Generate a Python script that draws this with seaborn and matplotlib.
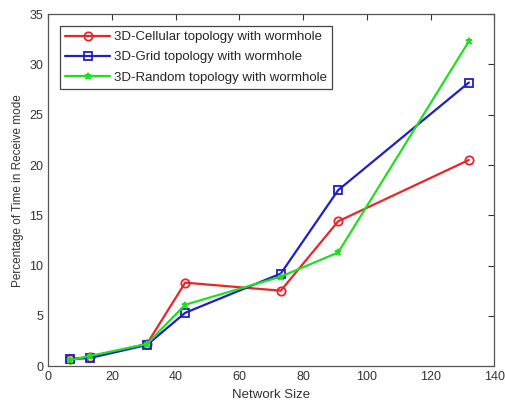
import matplotlib
matplotlib.use("Agg")
import matplotlib.pyplot as plt
import seaborn as sns
import pandas as pd

network_size = [7, 13, 31, 43, 73, 91, 132]
cellular = [0.7, 0.9, 2.2, 8.3, 7.5, 14.4, 20.5]
grid = [0.7, 0.8, 2.1, 5.3, 9.2, 17.5, 28.2]
random_topo = [0.6, 1.0, 2.2, 6.1, 8.9, 11.3, 32.3]

labels = ["3D-Cellular topology with wormhole",
          "3D-Grid topology with wormhole",
          "3D-Random topology with wormhole"]
series = [cellular, grid, random_topo]
colors = ["#e8262a", "#1f1fc8", "#22dd22"]
markers = ["o", "s", "*"]

rows = []
for lab, vals in zip(labels, series):
    for x, y in zip(network_size, vals):
        rows.append({"Network Size": x, "value": y, "series": lab})
df = pd.DataFrame(rows)

sns.set_style("white")
plt.rcParams['font.family'] = ['Liberation Sans', 'DejaVu Sans']

fig = plt.figure(figsize=(5.06, 4.05), dpi=100)
ax = fig.add_axes([0.095, 0.096, 0.882, 0.869])

for lab, col, mk in zip(labels, colors, markers):
    sub = df[df["series"] == lab]
    sns.lineplot(data=sub, x="Network Size", y="value", ax=ax, color=col,
                 marker=mk, markersize=6 if mk != "*" else 5,
                 markerfacecolor="none", markeredgecolor=col, markeredgewidth=1.3,
                 linewidth=1.6, label=lab)

ax.set_xlim(0, 140)
ax.set_ylim(0, 35)
ax.set_xticks(range(0, 141, 20))
ax.set_yticks(range(0, 36, 5))
ax.set_xlabel("Network Size", fontsize=9.5, color="#333333", labelpad=4)
ax.set_ylabel("Percentage of Time in Receive mode", fontsize=8.5, color="#333333", labelpad=4)
ax.tick_params(direction="in", length=4, top=True, right=True, labelsize=9,
               colors="#333333", width=0.8)
for s in ax.spines.values():
    s.set_color("#555555")
    s.set_linewidth(0.9)

leg = ax.legend(loc="upper left", fontsize=9.5, frameon=True, fancybox=False,
                edgecolor="#444444", framealpha=1, borderpad=0.4,
                handlelength=3.4, handletextpad=0.3, labelspacing=0.6,
                borderaxespad=0, bbox_to_anchor=(0.027, 0.967))
leg.get_frame().set_linewidth(0.9)

fig.savefig("out.png", dpi=100, facecolor="white")
